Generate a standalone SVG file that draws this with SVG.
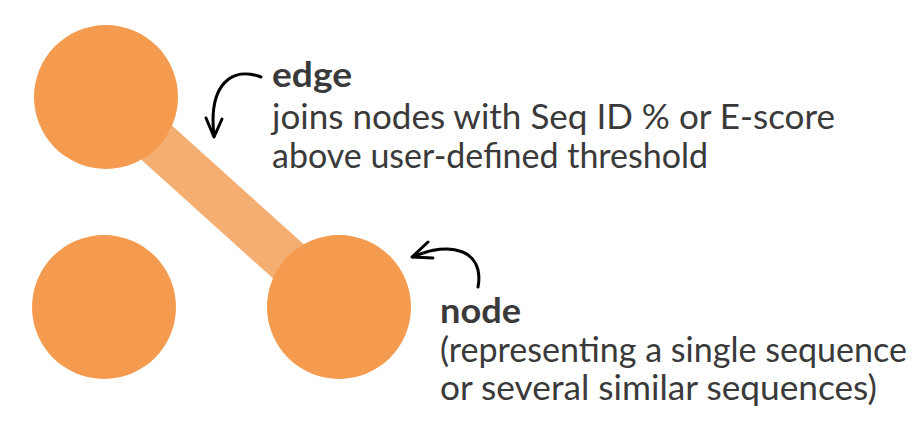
<svg xmlns="http://www.w3.org/2000/svg" width="916" height="422" viewBox="0 0 916 422">
<style>
.node{fill:#F49B4F}
.edge{stroke:#F5AE72;stroke-width:46;fill:none}
.ann{stroke:#000;stroke-width:3;fill:none;stroke-linecap:round;stroke-linejoin:round}
text{font-family:Lato,"Open Sans",sans-serif;font-size:34.5px;fill:#3a3a3a}
.b{font-weight:bold}
</style>
<rect width="916" height="422" fill="#fff"/>
<g id="connectors">
<line class="edge" x1="106" y1="97" x2="339" y2="307"/>
</g>
<g id="node-a"><circle class="node" cx="106" cy="97" r="72"/></g>
<g id="node-b"><circle class="node" cx="104" cy="307" r="72"/></g>
<g id="node-c"><circle class="node" cx="339" cy="307" r="72"/></g>
<g id="edge-label">
<path class="ann" d="M261 77 C232 66 208 84 214 136"/>
<path class="ann" d="M206 118 L214 137 L222 119"/>
<text x="272" y="87" class="b" textLength="80" lengthAdjust="spacingAndGlyphs">edge</text>
<text x="272" y="129" textLength="563" lengthAdjust="spacingAndGlyphs">joins nodes with Seq ID % or E-score</text>
<text x="272" y="168" textLength="436" lengthAdjust="spacingAndGlyphs">above user-defined threshold</text>
</g>
<g id="node-label">
<path class="ann" d="M478 287 C485 250 450 240 413 257"/>
<path class="ann" d="M428 242 L412 257 L433 258"/>
<text x="440" y="323" class="b" textLength="81" lengthAdjust="spacingAndGlyphs">node</text>
<text x="440" y="362" textLength="467" lengthAdjust="spacingAndGlyphs">(representing a single sequence</text>
<text x="440" y="400" textLength="437" lengthAdjust="spacingAndGlyphs">or several similar sequences)</text>
</g>
</svg>
